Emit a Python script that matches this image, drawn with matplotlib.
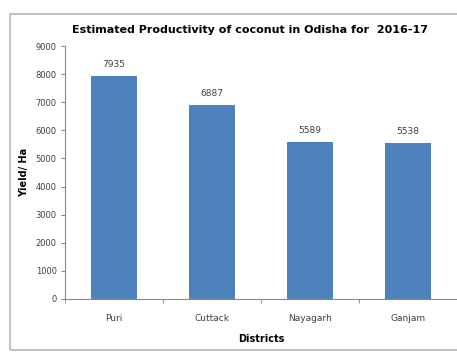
import matplotlib
matplotlib.use('Agg')
import matplotlib.pyplot as plt
from matplotlib.patches import Rectangle

districts = ['Puri', 'Cuttack', 'Nayagarh', 'Ganjam']
yields = [7935, 6887, 5589, 5538]
yticks = list(range(0, 9001, 1000))

W, H = 457, 355
fig = plt.figure(figsize=(W / 100, H / 100), dpi=100)

# chart area border
fig.patches.append(Rectangle((10 / W, 5 / H), 460 / W, 336 / H, transform=fig.transFigure,
                             fill=False, edgecolor='#b8b8b8', linewidth=1.2))

ax = fig.add_axes([65 / W, 56 / H, 392 / W, 253 / H])
x = list(range(len(districts)))
ax.bar(x, yields, width=0.46, color='#4f81bd', zorder=2)
for xi, v in zip(x, yields):
    ax.text(xi, v + 250, str(v), ha='center', va='bottom', fontsize=6.5, color='#404040')

ax.set_xlim(-0.5, len(districts) - 0.5)
ax.set_ylim(0, 9000)
ax.set_yticks(yticks)
ax.set_yticklabels([str(t) for t in yticks], fontsize=6, color='#404040')
ax.set_xticks(x)
ax.set_xticklabels(districts, fontsize=6.5, color='#404040')
ax.set_xticks([i - 0.5 for i in range(len(districts) + 1)], minor=True)
ax.tick_params(axis='x', which='major', length=0, pad=11)
ax.tick_params(axis='x', which='minor', length=3, color='#888888')
ax.tick_params(axis='y', length=3, color='#888888', pad=3)
for s in ['top', 'right']:
    ax.spines[s].set_visible(False)
ax.spines['left'].set_color('#888888')
ax.spines['bottom'].set_color('#888888')

ax.set_xlabel('Districts', fontsize=7, fontweight='bold', labelpad=8)
ax.set_ylabel('Yield/ Ha', fontsize=7, fontweight='bold', labelpad=5)
fig.text(250 / W, 1 - 30 / H, 'Estimated Productivity of coconut in Odisha for  2016-17',
         ha='center', va='center', fontsize=8, fontweight='bold')

fig.savefig('out.png', dpi=100)
